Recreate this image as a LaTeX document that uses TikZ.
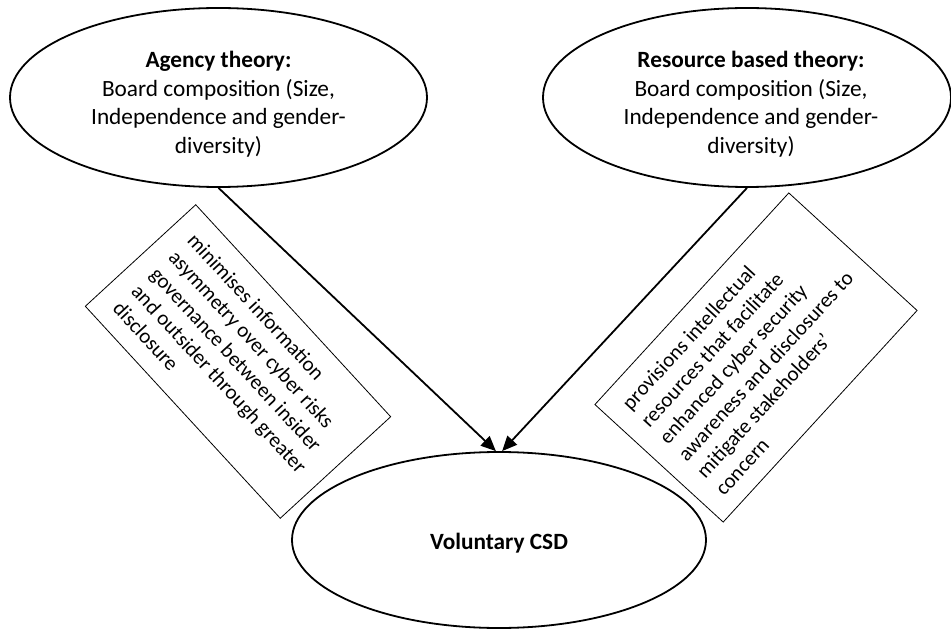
\documentclass[tikz,border=0pt]{standalone}
\usepackage{fontspec}
\setmainfont{Carlito}
\usetikzlibrary{shapes.geometric,arrows.meta}
\begin{document}
\begin{tikzpicture}[x=1pt,y=-1pt,
  theory/.style={draw,line width=1.8pt,ellipse,inner sep=0pt},
  theorytext/.style={align=center,inner sep=0pt,
    font=\fontsize{23.3}{28.5}\selectfont},
  note/.style={draw,line width=0.8pt,rectangle,inner sep=0pt,align=left,
    font=\fontsize{21}{25.3}\selectfont},
  link/.style={line width=1.8pt,-{Triangle[length=15pt,width=13pt]}}
]
\useasboundingbox (0,0) rectangle (951,631);
\node[theory,minimum width=417pt,minimum height=179pt] (agency) at (218.5,97.5) {};
\node[theorytext] (agencytext) at (218.5,104)
  {\textbf{Agency theory:}\\Board composition (Size,\\Independence and gender-\\diversity)};
\node[theory,minimum width=408pt,minimum height=179pt] (resource) at (747,97.5) {};
\node[theorytext] (resourcetext) at (751,104)
  {\textbf{Resource based theory:}\\Board composition (Size,\\Independence and gender-\\diversity)};
\node[theory,minimum width=414pt,minimum height=176pt] (csd) at (499,540) {};
\node[theorytext] (csdtext) at (499,543) {\textbf{Voluntary CSD}};
\node[note,rotate=-47.4,minimum width=288pt,minimum height=150pt] (agencynote) at (238,361.5)
  {minimises information\\asymmetry over cyber risks\\governance between insider\\and outsider through greater\\disclosure};
\node[note,rotate=47.5,minimum width=287pt,minimum height=174pt] (resourcenote) at (756,357.5)
  {provisions intellectual\\resources that facilitate\\enhanced cyber security\\awareness and disclosures to\\mitigate stakeholders’\\concern};
\draw[link] (agency.south) -- (csd.92);
\draw[link] (resource.south) -- (csd.88);
\end{tikzpicture}
\end{document}
